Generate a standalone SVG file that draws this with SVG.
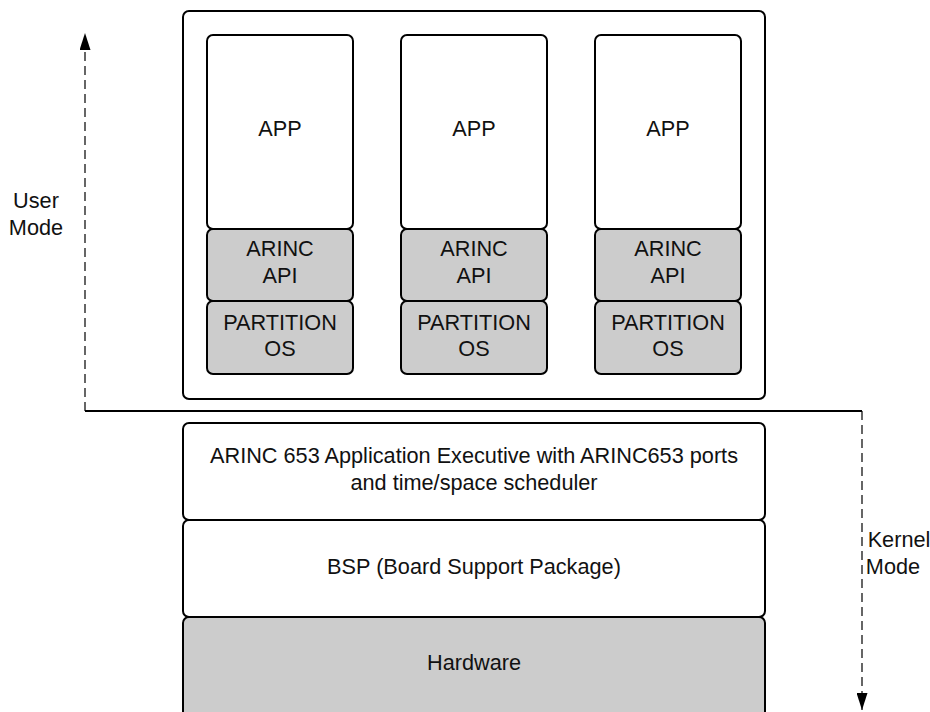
<svg xmlns="http://www.w3.org/2000/svg" width="930" height="712" viewBox="0 0 930 712">
<defs>
<marker id="ar" viewBox="0 0 17 11" refX="17" refY="5.5" markerWidth="17" markerHeight="11" markerUnits="userSpaceOnUse" orient="auto">
<path d="M0,0 L17,5.5 L0,11 Z" fill="#000"/>
</marker>
</defs>
<style>
.b{fill:#fff;stroke:#000;stroke-width:2}
.g{fill:#ccc;stroke:#000;stroke-width:2}
text{font-family:"Liberation Sans",Arial,sans-serif;font-size:21.7px;fill:#111;text-anchor:middle}
.d{fill:none;stroke:#000;stroke-width:1.2;stroke-dasharray:9 5}
</style>
<rect width="930" height="712" fill="#fff"/>
<g id="outer"><rect class="b" x="183" y="11" width="582" height="388" rx="6"/></g>
<g id="app1"><rect class="b" x="207" y="35" width="146" height="194" rx="6"/><text x="280" y="136">APP</text></g>
<g id="api1"><rect class="g" x="207" y="229" width="146" height="72" rx="6"/><text x="280" y="256">ARINC</text><text x="280" y="283">API</text></g>
<g id="os1"><rect class="g" x="207" y="301" width="146" height="73" rx="6"/><text x="280" y="330">PARTITION</text><text x="280" y="356">OS</text></g>
<g id="app2"><rect class="b" x="401" y="35" width="146" height="194" rx="6"/><text x="474" y="136">APP</text></g>
<g id="api2"><rect class="g" x="401" y="229" width="146" height="72" rx="6"/><text x="474" y="256">ARINC</text><text x="474" y="283">API</text></g>
<g id="os2"><rect class="g" x="401" y="301" width="146" height="73" rx="6"/><text x="474" y="330">PARTITION</text><text x="474" y="356">OS</text></g>
<g id="app3"><rect class="b" x="595" y="35" width="146" height="194" rx="6"/><text x="668" y="136">APP</text></g>
<g id="api3"><rect class="g" x="595" y="229" width="146" height="72" rx="6"/><text x="668" y="256">ARINC</text><text x="668" y="283">API</text></g>
<g id="os3"><rect class="g" x="595" y="301" width="146" height="73" rx="6"/><text x="668" y="330">PARTITION</text><text x="668" y="356">OS</text></g>
<g id="exec"><rect class="b" x="183" y="423" width="582" height="97" rx="6"/><text x="474" y="463">ARINC 653 Application Executive with ARINC653 ports</text><text x="474" y="490">and time/space scheduler</text></g>
<g id="bsp"><rect class="b" x="183" y="520" width="582" height="97" rx="6"/><text x="474" y="574">BSP (Board Support Package)</text></g>
<g id="hw"><rect class="g" x="183" y="617" width="582" height="110" rx="6"/><text x="474" y="670">Hardware</text></g>
<g id="labels"><text x="36" y="208">User</text><text x="36" y="235">Mode</text><text x="899" y="547">Kernel</text><text x="893" y="574">Mode</text></g>
<g id="connectors">
<line x1="85" y1="411" x2="862" y2="411" stroke="#000" stroke-width="2"/>
<path class="d" d="M85,411 V33" marker-end="url(#ar)"/>
<path class="d" d="M862,411 V710" marker-end="url(#ar)"/>
</g>
</svg>
